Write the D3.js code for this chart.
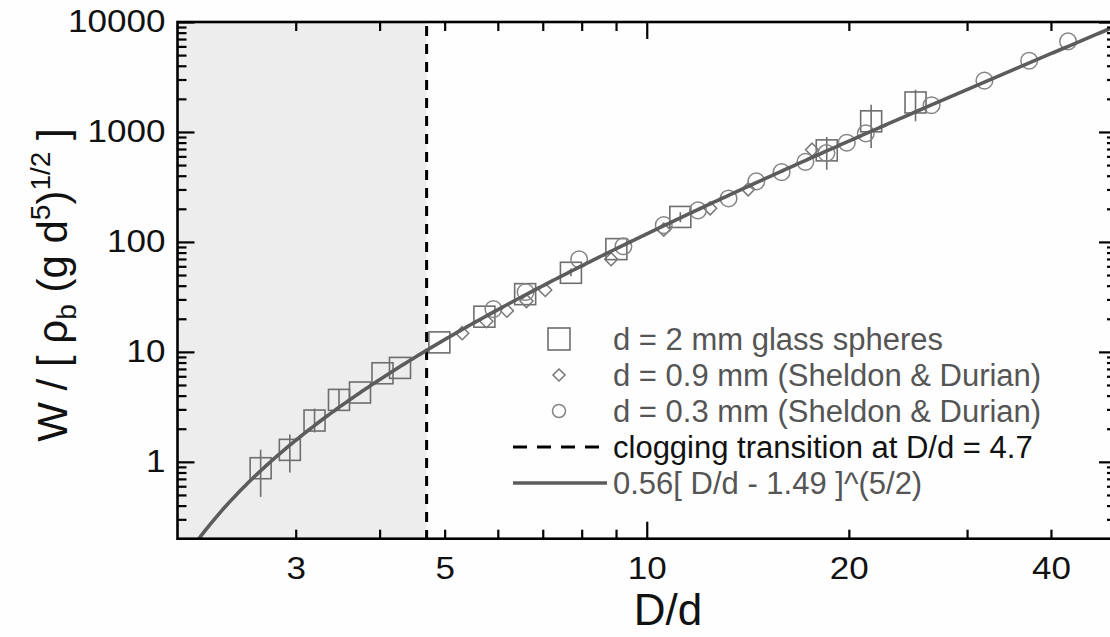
<!DOCTYPE html>
<html><head><meta charset="utf-8">
<script src="https://cdn.jsdelivr.net/npm/d3@7"></script>
<style>
body{margin:0;background:#fff}
svg{display:block}
text{font-family:"Liberation Sans",Arial,sans-serif}
</style>
</head><body>
<svg id="chart" width="1110" height="637"></svg>
<script>
// ---- data ----
const squaresX = [2.66, 2.94, 3.20, 3.48, 3.74, 4.04, 4.29, 4.91, 5.73, 6.59, 7.71, 9.01, 11.22, 18.54, 21.59, 25.14];
const squaresY = [0.875, 1.285, 2.375, 3.66, 4.27, 6.39, 7.15, 12.2, 20.9, 33.5, 52.4, 86.0, 168.7, 680, 1249, 1854];
const squaresErrLo = [0.48, 0.80, 1.85, 2.9, null, null, null, null, null, null, 48.7, null, 151, 454, 715, 1249];
const squaresErrHi = [1.29, 1.77, 3.05, 4.6, null, null, null, null, null, null, 57.2, null, 186, 900, 1771, 2424];

const diamondsX = [5.31, 5.77, 6.19, 6.62, 7.06, 8.85, 10.6, 12.43, 14.16, 17.63];
const diamondsY = [14.8, 18.97, 23.7, 28.97, 36.5, 69.5, 129.4, 202, 300.8, 690];

const circlesX = [5.91, 6.60, 7.93, 9.23, 10.6, 11.92, 13.24, 14.56, 15.88, 17.23, 18.52, 19.86, 21.2, 26.56, 31.84, 37.12, 42.42];
const circlesY = [24.5, 35.0, 69.5, 91.2, 142.1, 193.4, 248.6, 355.6, 431, 535, 644, 799, 971, 1752, 2927, 4447, 6662];

const fitParams = [0.56, 1.49, 2.5];   // W = a (D/d - b)^c
const cloggingX = [4.7];

const xDomain = [2, 50];
const yDomain = [0.2, 10000];
const xMinorTicks = [3, 4, 5, 6, 7, 8, 9, 20, 30, 40];
const xMajorTicks = [10];
const xTickLabels = [3, 5, 10, 20, 40];
const yMajorTicks = [1, 10, 100, 1000, 10000];
const yMinorTicks = [0.3,0.4,0.5,0.6,0.7,0.8,0.9, 2,3,4,5,6,7,8,9, 20,30,40,50,60,70,80,90, 200,300,400,500,600,700,800,900, 2000,3000,4000,5000,6000,7000,8000,9000];

const legendLabels = ["d = 2 mm glass spheres", "d = 0.9 mm (Sheldon & Durian)", "d = 0.3 mm (Sheldon & Durian)", "clogging transition at D/d = 4.7", "0.56[ D/d - 1.49 ]^(5/2)"];

// ---- layout ----
const L = 177.5, R = 1116, T = 22, B = 538.7;
const svg = d3.select("#chart");
const x = d3.scaleLog().domain(xDomain).range([L, R]);
const y = d3.scaleLog().domain(yDomain).range([B, T]);

const markerCol = "#6e6e6e";
const fitCol = "#5c5c5c";

svg.append("rect").attr("width",1110).attr("height",637).attr("fill","#fefefe");

svg.append("defs").append("clipPath").attr("id","clip")
  .append("rect").attr("x",L).attr("y",T).attr("width",R-L).attr("height",B-T);

// shaded clogging region
svg.append("rect").attr("x", L).attr("y", T)
  .attr("width", x(cloggingX[0]) - L).attr("height", B - T)
  .attr("fill", "#ededed");

// dashed line
svg.append("line").attr("x1", x(cloggingX[0])).attr("x2", x(cloggingX[0]))
  .attr("y1", T + 4).attr("y2", B)
  .attr("stroke", "#000").attr("stroke-width", 3).attr("stroke-dasharray", "10,8");

const plot = svg.append("g").attr("clip-path","url(#clip)");

// error bars
const sqIdx = d3.range(squaresX.length);
plot.selectAll(".err").data(sqIdx.filter(i => squaresErrLo[i] != null)).join("line")
  .attr("x1", i => x(squaresX[i])).attr("x2", i => x(squaresX[i]))
  .attr("y1", i => y(squaresErrLo[i])).attr("y2", i => y(squaresErrHi[i]))
  .attr("stroke", markerCol).attr("stroke-width", 1.6);

// squares
const sq = 21;
plot.selectAll(".sq").data(sqIdx).join("rect")
  .attr("x", i => x(squaresX[i]) - sq/2).attr("y", i => y(squaresY[i]) - sq/2)
  .attr("width", sq).attr("height", sq)
  .attr("fill", "none").attr("stroke", markerCol).attr("stroke-width", 1.6);

// diamonds
const dm = 6.5;
plot.selectAll(".dm").data(d3.range(diamondsX.length)).join("path")
  .attr("d", i => { const cx = x(diamondsX[i]), cy = y(diamondsY[i]);
    return `M${cx},${cy-dm}L${cx+dm},${cy}L${cx},${cy+dm}L${cx-dm},${cy}Z`; })
  .attr("fill", "none").attr("stroke", "#777").attr("stroke-width", 1.5);

// circles
plot.selectAll(".ci").data(d3.range(circlesX.length)).join("circle")
  .attr("cx", i => x(circlesX[i])).attr("cy", i => y(circlesY[i])).attr("r", 8.3)
  .attr("fill", "none").attr("stroke", "#858585").attr("stroke-width", 1.5);

// fit curve
const fitXs = d3.range(0, 401).map(k => Math.exp(Math.log(2.05) + k/400*(Math.log(50)-Math.log(2.05))));
const fitPts = fitXs.filter(v => v > fitParams[1]).map(v => [v, fitParams[0]*Math.pow(v - fitParams[1], fitParams[2])]);
plot.append("path").datum(fitPts)
  .attr("d", d3.line().x(d => x(d[0])).y(d => y(Math.max(d[1], 0.05))))
  .attr("fill","none").attr("stroke", fitCol).attr("stroke-width", 3.6);

// ---- axes ----
const fontTick = 31, stretch = 1.13;
const allX = xMinorTicks.concat(xMajorTicks);
function styleAxis(g, majors, horizontal){
  g.select(".domain").remove();
  g.selectAll(".tick line").attr("stroke","#000").attr("stroke-width",2.2);
  g.selectAll(".tick").each(function(d){
    const isMajor = majors.includes(d);
    const len = isMajor ? 17 : 9;
    const ln = d3.select(this).select("line");
    if (horizontal) ln.attr("y2", +ln.attr("y2") < 0 ? -len : len);
    else ln.attr("x2", +ln.attr("x2") < 0 ? -len : len);
  });
  g.selectAll(".tick text").attr("font-size", fontTick).attr("fill","#111")
    .attr("font-family", '"Liberation Sans",Arial,sans-serif')
    .each(function(){
      const t = d3.select(this);
      const xx = +t.attr("x") || 0;
      t.attr("x", xx / stretch).attr("transform", `scale(${stretch},1)`);
    });
}
const gB = svg.append("g").attr("transform",`translate(0,${B})`)
  .call(d3.axisBottom(x).tickValues(allX).tickSize(-9).tickPadding(18)
    .tickFormat(d => xTickLabels.includes(d) ? String(d) : ""));
styleAxis(gB, xMajorTicks, true);
const gT = svg.append("g").attr("transform",`translate(0,${T})`)
  .call(d3.axisTop(x).tickValues(allX).tickSize(-9).tickFormat(""));
styleAxis(gT, xMajorTicks, true);
const allY = yMinorTicks.concat(yMajorTicks);
const gL = svg.append("g").attr("transform",`translate(${L},0)`)
  .call(d3.axisLeft(y).tickValues(allY).tickSize(-9).tickPadding(12)
    .tickFormat(d => yMajorTicks.includes(d) ? String(d) : ""));
styleAxis(gL, yMajorTicks, false);
const gR = svg.append("g").attr("transform",`translate(${R},0)`)
  .call(d3.axisRight(y).tickValues(allY).tickSize(-9).tickFormat(""));
styleAxis(gR, yMajorTicks, false);

// spines
svg.append("rect").attr("x",L).attr("y",T).attr("width",R-L).attr("height",B-T)
  .attr("fill","none").attr("stroke","#000").attr("stroke-width",2.6);

// axis titles
svg.append("text").attr("x", 668).attr("y", 625).attr("text-anchor","middle")
  .attr("font-size", 44).attr("fill","#111").text("D/d");

const yt = svg.append("text").attr("transform","translate(67,285) rotate(-90)")
  .attr("text-anchor","middle").attr("font-size", 42).attr("fill","#111");
yt.append("tspan").text("W / [ ρ");
yt.append("tspan").attr("font-size", 28).attr("dy", 9).text("b");
yt.append("tspan").attr("dy", -9).text(" (g d");
yt.append("tspan").attr("font-size", 28).attr("dy", -17).text("5");
yt.append("tspan").attr("dy", 17).text(")");
yt.append("tspan").attr("font-size", 28).attr("dy", -17).text("1/2");
yt.append("tspan").attr("dy", 17).text(" ]");

// ---- legend ----
const lgX = 559, lgTextX = 613, lgBase = 350, lgStep = 36;
const lg = svg.append("g");
const rowY = i => lgBase + i*lgStep - 11;
lg.append("rect").attr("x", lgX - 11).attr("y", rowY(0) - 11).attr("width", 22).attr("height", 22)
  .attr("fill","none").attr("stroke", markerCol).attr("stroke-width",1.6);
lg.append("path").attr("d", `M${lgX},${rowY(1)-6}L${lgX+6},${rowY(1)}L${lgX},${rowY(1)+6}L${lgX-6},${rowY(1)}Z`)
  .attr("fill","none").attr("stroke","#777").attr("stroke-width",1.5);
lg.append("circle").attr("cx", lgX).attr("cy", rowY(2)).attr("r", 6.5)
  .attr("fill","none").attr("stroke","#858585").attr("stroke-width",1.5);
lg.append("line").attr("x1", 513).attr("x2", 607).attr("y1", rowY(3)).attr("y2", rowY(3))
  .attr("stroke","#000").attr("stroke-width",3).attr("stroke-dasharray","14,10");
lg.append("line").attr("x1", 513).attr("x2", 607).attr("y1", rowY(4)).attr("y2", rowY(4))
  .attr("stroke", fitCol).attr("stroke-width",3.6);
const lgCols = ["#555","#555","#555","#111","#555"];
lg.selectAll(".lt").data(legendLabels).join("text")
  .attr("x", lgTextX).attr("y", (d,i) => lgBase + i*lgStep)
  .attr("font-size", 31).attr("fill", (d,i) => lgCols[i]).text(d => d);
</script>
</body></html>
